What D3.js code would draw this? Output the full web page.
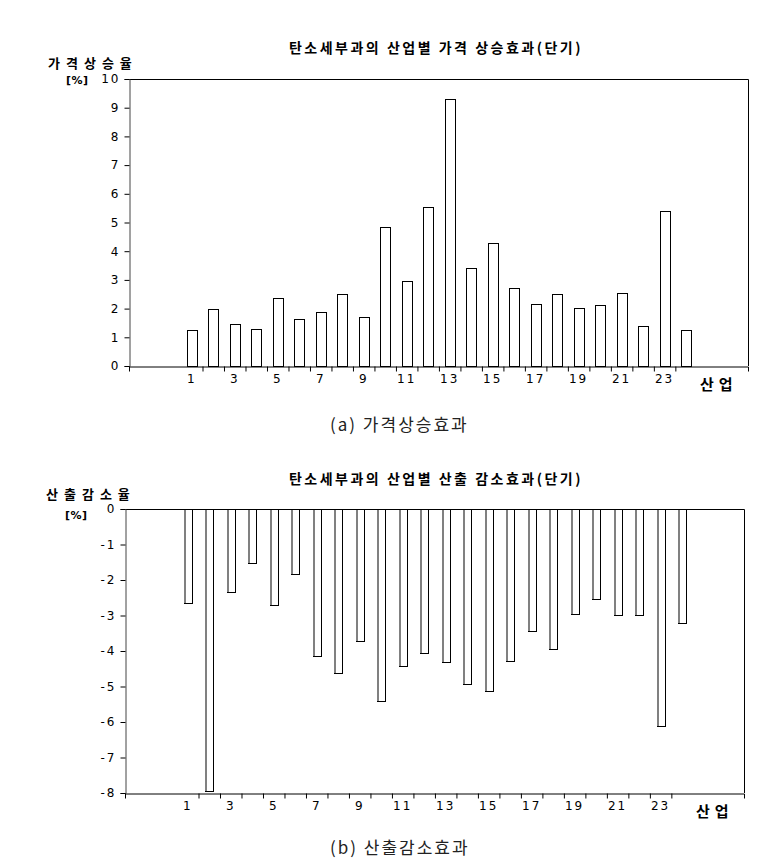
<!DOCTYPE html>
<html>
<head>
<meta charset="utf-8">
<script src="https://cdn.jsdelivr.net/npm/d3@7"></script>
<style>
  body { margin: 0; background: #fff; }
  svg text { font-family: "DejaVu Sans", sans-serif; }
  .kr { font-family: "Noto Sans CJK KR", sans-serif; }
</style>
</head>
<body>
<div id="my_dataviz"></div>
<script>
// industries 1..24 and the two series
var industries = [1, 2, 3, 4, 5, 6, 7, 8, 9, 10, 11, 12, 13, 14, 15, 16, 17, 18, 19, 20, 21, 22, 23, 24];
var priceRise = [1.26, 1.98, 1.47, 1.30, 2.38, 1.65, 1.88, 2.51, 1.72, 4.85, 2.97, 5.55, 9.30, 3.42, 4.29, 2.71, 2.16, 2.51, 2.02, 2.12, 2.54, 1.40, 5.41, 1.26];
var outputFall = [-2.64, -7.95, -2.33, -1.51, -2.71, -1.84, -4.13, -4.63, -3.73, -5.42, -4.41, -4.07, -4.32, -4.94, -5.13, -4.29, -3.45, -3.95, -2.97, -2.54, -2.99, -2.99, -6.10, -3.22];

// tick labels
var xLabels = [1, 3, 5, 7, 9, 11, 13, 15, 17, 19, 21, 23];
var yTicksPrice = [0, 1, 2, 3, 4, 5, 6, 7, 8, 9, 10];
var yTicksOutput = [0, -1, -2, -3, -4, -5, -6, -7, -8];

// tick marks sit between neighbouring industries
var xBoundaries = industries.slice(0, -1).map(function(d) { return d + 0.5; });

var svg = d3.select("#my_dataviz")
  .append("svg")
    .attr("width", 766)
    .attr("height", 868);

function drawPanel(cfg) {
    var x = d3.scaleLinear()
        .domain([-1.92, 26.88])
        .range([cfg.left, cfg.right]);
    var y = d3.scaleLinear()
        .domain(cfg.yDomain)
        .range([cfg.bottom, cfg.top]);

    var g = svg.append("g");

    // frame: top and right edges
    g.append("path")
        .attr("d", "M" + cfg.left + "," + (cfg.top + 0.5) + "H" + (cfg.right + 0.5) + "V" + cfg.bottom)
        .attr("fill", "none")
        .attr("stroke", "#000");

    // bars
    var bars = g.append("g")
        .selectAll("rect")
        .data(cfg.values)
        .enter();

    bars.append("rect")
        .attr("x", function(d, i) { return Math.round(x(industries[i]) - cfg.barW / 2) + 0.5; })
        .attr("y", function(d) { return Math.round(y(Math.max(0, d))) + 0.5; })
        .attr("width", cfg.barW)
        .attr("height", function(d) { return Math.abs(Math.round(y(d)) - Math.round(y(0))); })
        .attr("fill", "#fff")
        .attr("stroke", "#000");

    if (cfg.grayEdge) {
        bars.append("line")
            .attr("x1", function(d, i) { return Math.round(x(industries[i]) - cfg.barW / 2) + 1; })
            .attr("x2", function(d, i) { return Math.round(x(industries[i]) - cfg.barW / 2) + 1; })
            .attr("y1", function(d) { return Math.round(y(0)) + 1; })
            .attr("y2", function(d) { return Math.round(y(d)); })
            .attr("stroke", "#808080")
            .attr("stroke-width", 2);
    }

    // y axis, plain hyphen for negatives
    var yAxis = g.append("g")
        .attr("transform", "translate(" + (cfg.left + 0.5) + ",0)")
        .call(d3.axisLeft(y).tickValues(cfg.yTicks).tickSize(5).tickPadding(4)
            .tickFormat(function(d) { return String(d); }));
    yAxis.select(".domain").attr("stroke", "#444");
    yAxis.selectAll("text")
        .attr("font-size", 12)
        .attr("letter-spacing", 2)
        .attr("fill", "#000");

    // x axis: ticks at boundaries, labels under odd industries
    var xAxis = g.append("g")
        .attr("transform", "translate(0," + (cfg.bottom + 0.5) + ")")
        .call(d3.axisBottom(x).tickValues(xBoundaries).tickSize(5).tickSizeOuter(5).tickFormat(""));
    xAxis.select(".domain").attr("stroke", "#000");

    g.append("g")
        .selectAll("text")
        .data(xLabels)
        .enter().append("text")
            .attr("x", function(d) { return x(d); })
            .attr("y", cfg.bottom + 17)
            .attr("text-anchor", "middle")
            .attr("font-size", 12)
            .attr("letter-spacing", 2)
            .text(function(d) { return d; });

    // titles and labels
    g.append("text")
        .attr("class", "kr")
        .attr("x", 436)
        .attr("y", cfg.titleY)
        .attr("text-anchor", "middle")
        .attr("font-size", 14)
        .attr("font-weight", "bold")
        .attr("letter-spacing", 2.5)
        .text(cfg.title);

    g.append("text")
        .attr("class", "kr")
        .attr("x", cfg.yLabelX)
        .attr("y", cfg.yLabelY)
        .attr("font-size", 13)
        .attr("font-weight", "bold")
        .attr("letter-spacing", 6)
        .text(cfg.yLabel);

    g.append("text")
        .attr("x", cfg.unitX)
        .attr("y", cfg.unitY)
        .attr("font-size", 11)
        .attr("font-weight", "bold")
        .attr("letter-spacing", 0.5)
        .text("[%]");

    g.append("text")
        .attr("class", "kr")
        .attr("x", cfg.right - 48)
        .attr("y", cfg.bottom + 24)
        .attr("font-size", 15)
        .attr("font-weight", "bold")
        .attr("letter-spacing", 5)
        .text("산업");

    g.append("text")
        .attr("class", "kr")
        .attr("x", 330)
        .attr("y", cfg.captionY)
        .attr("font-size", 17)
        .attr("fill", "#222")
        .attr("letter-spacing", 2)
        .text(cfg.caption);
}

drawPanel({
    values: priceRise, yDomain: [0, 10], yTicks: yTicksPrice,
    left: 129, right: 748, top: 79, bottom: 366, barW: 10, grayEdge: false,
    title: "탄소세부과의 산업별 가격 상승효과(단기)", titleY: 53,
    yLabel: "가격상승율", yLabelX: 48, yLabelY: 68, unitX: 66, unitY: 84,
    caption: "(a) 가격상승효과", captionY: 431
});

drawPanel({
    values: outputFall, yDomain: [-8, 0], yTicks: yTicksOutput,
    left: 125, right: 744, top: 509, bottom: 793, barW: 8, grayEdge: true,
    title: "탄소세부과의 산업별 산출 감소효과(단기)", titleY: 484,
    yLabel: "산출감소율", yLabelX: 46, yLabelY: 499, unitX: 65, unitY: 519,
    caption: "(b) 산출감소효과", captionY: 854
});
</script>
</body>
</html>
